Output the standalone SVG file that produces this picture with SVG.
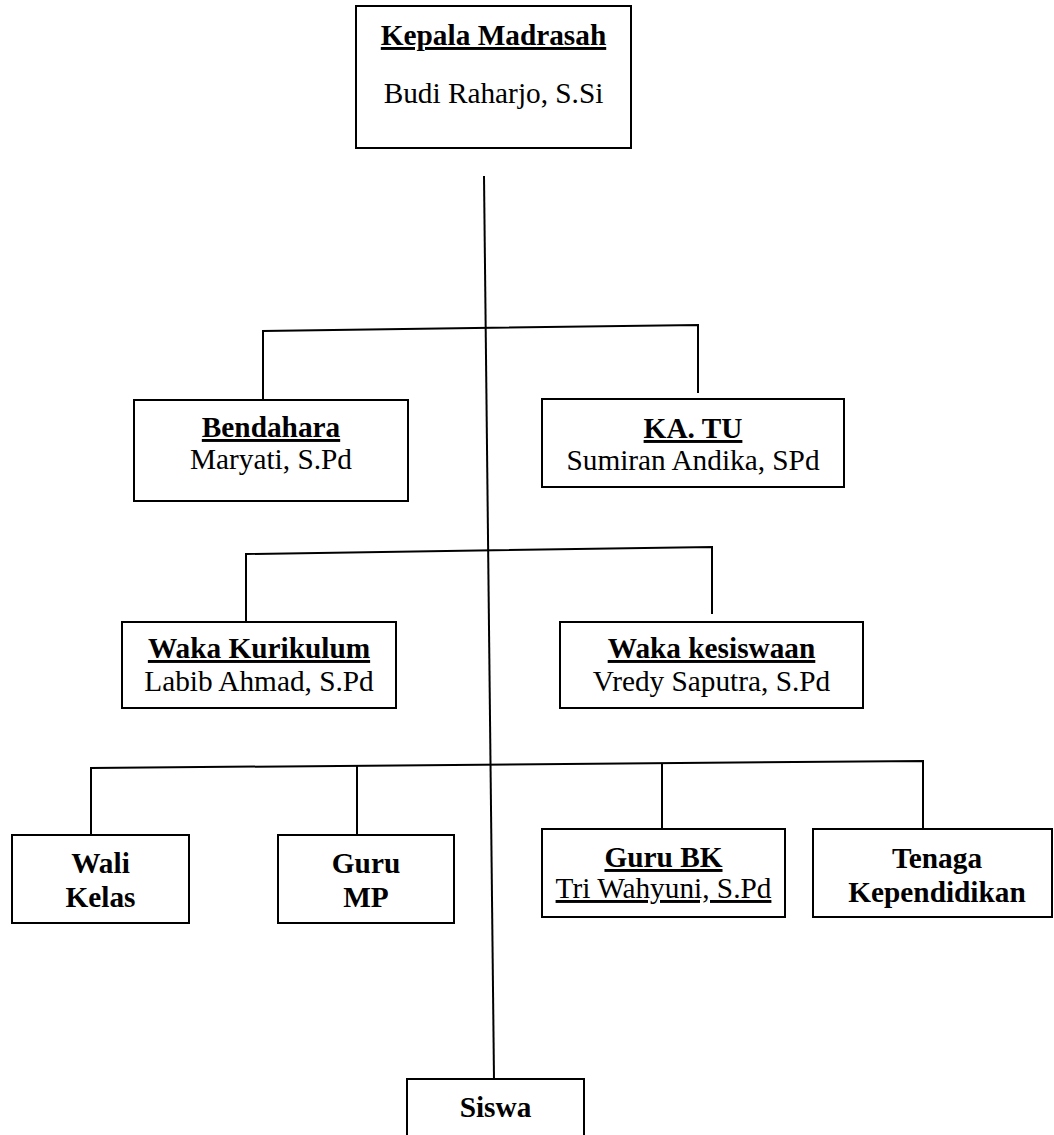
<svg xmlns="http://www.w3.org/2000/svg" width="1054" height="1135" viewBox="0 0 1054 1135">
<style>
  .box { fill: #ffffff; stroke: #000000; stroke-width: 2; }
  .ln { fill: none; stroke: #000000; stroke-width: 2; }
  text { font-family: "Liberation Serif", "Times New Roman", serif; font-size: 29.3px; fill: #000000; text-anchor: middle; }
  .t { font-weight: bold; text-decoration: underline; }
  .b { font-weight: bold; }
  .u { text-decoration: underline; }
</style>
<rect width="1054" height="1135" fill="#ffffff"/>
<g id="connectors">
  <line class="ln" x1="484" y1="176" x2="494" y2="1079"/>
  <polyline class="ln" points="263,400 263,331 698,325 698,393"/>
  <polyline class="ln" points="246,622 246,554 712,547 712,614"/>
  <polyline class="ln" points="91,835 91,768 923,761 923,829"/>
  <line class="ln" x1="357" y1="766" x2="357" y2="835"/>
  <line class="ln" x1="662" y1="763" x2="662" y2="829"/>
</g>
<g id="kepala">
  <rect class="box" x="356" y="6" width="275" height="142"/>
  <text class="t" x="493.5" y="45">Kepala Madrasah</text>
  <text x="493.5" y="103">Budi Raharjo, S.Si</text>
</g>
<g id="bendahara">
  <rect class="box" x="134" y="400" width="274" height="101"/>
  <text class="t" x="271" y="437">Bendahara</text>
  <text x="271" y="469">Maryati, S.Pd</text>
</g>
<g id="katu">
  <rect class="box" x="542" y="399" width="302" height="88"/>
  <text class="t" x="693" y="438">KA. TU</text>
  <text x="693" y="470">Sumiran Andika, SPd</text>
</g>
<g id="waka-kurikulum">
  <rect class="box" x="122" y="622" width="274" height="86"/>
  <text class="t" x="259" y="658">Waka Kurikulum</text>
  <text x="259" y="691">Labib Ahmad, S.Pd</text>
</g>
<g id="waka-kesiswaan">
  <rect class="box" x="560" y="622" width="303" height="86"/>
  <text class="t" x="711.5" y="658">Waka kesiswaan</text>
  <text x="711.5" y="691">Vredy Saputra, S.Pd</text>
</g>
<g id="wali-kelas">
  <rect class="box" x="12" y="835" width="177" height="88"/>
  <text class="b" x="100.5" y="873">Wali</text>
  <text class="b" x="100.5" y="907">Kelas</text>
</g>
<g id="guru-mp">
  <rect class="box" x="278" y="835" width="176" height="88"/>
  <text class="b" x="366" y="873">Guru</text>
  <text class="b" x="366" y="907">MP</text>
</g>
<g id="guru-bk">
  <rect class="box" x="542" y="829" width="243" height="88"/>
  <text class="t" x="663.5" y="867">Guru BK</text>
  <text class="u" x="663.5" y="898">Tri Wahyuni, S.Pd</text>
</g>
<g id="tenaga">
  <rect class="box" x="813" y="829" width="239" height="88"/>
  <text class="b" x="937" y="868">Tenaga</text>
  <text class="b" x="937" y="902">Kependidikan</text>
</g>
<g id="siswa">
  <rect class="box" x="407" y="1079" width="177" height="70"/>
  <text class="b" x="495.5" y="1117">Siswa</text>
</g>
</svg>
